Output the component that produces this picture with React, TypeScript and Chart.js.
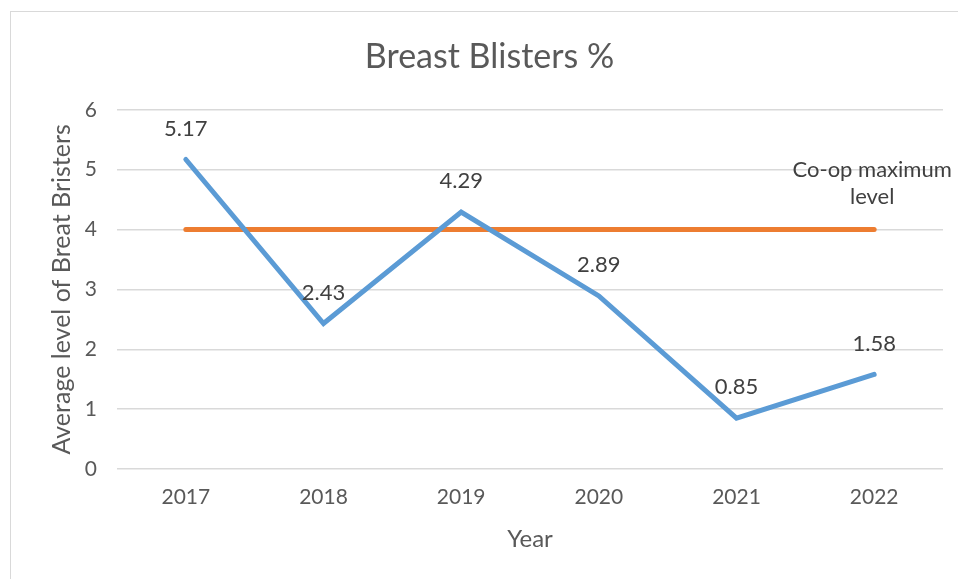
import React, { useEffect, useRef } from "react";
import { Chart, registerables } from "chart.js";

Chart.register(...registerables);

const years = ["2017", "2018", "2019", "2020", "2021", "2022"];
const blisters = [5.17, 2.43, 4.29, 2.89, 0.85, 1.58];
const coopMax = [4, 4, 4, 4, 4, 4];
const coopLabel = ["Co-op maximum", "level"];
const chartTitle = "Breast Blisters %";
const yTitle = "Average level of Breat Bristers";
const xTitle = "Year";

const FONT = "Lato, 'Open Sans', sans-serif";
const TEXT = "#595959";

const labelPlugin = {
  id: "labels",
  afterDatasetsDraw(chart: any) {
    const ctx = chart.ctx;
    ctx.save();
    ctx.font = `22px ${FONT}`;
    ctx.fillStyle = "#404040";
    ctx.textAlign = "center";
    ctx.textBaseline = "middle";
    const m0 = chart.getDatasetMeta(0);
    m0.data.forEach((pt: any, i: number) => {
      ctx.fillText(blisters[i].toFixed(2), pt.x, pt.y - 31);
    });
    const m1 = chart.getDatasetMeta(1);
    const last = m1.data[m1.data.length - 1];
    ctx.fillText(coopLabel[0], last.x - 2, last.y - 60);
    ctx.fillText(coopLabel[1], last.x - 2, last.y - 33);
    ctx.restore();
  },
};

export default function App() {
  const ref = useRef<HTMLCanvasElement>(null);
  useEffect(() => {
    const chart = new Chart(ref.current!, {
      type: "line",
      data: {
        labels: years,
        datasets: [
          {
            label: "Breast Blisters",
            data: blisters,
            borderColor: "#5b9bd5",
            borderWidth: 5,
            pointRadius: 0,
            tension: 0,
            borderCapStyle: "round",
          },
          {
            label: "Co-op maximum level",
            data: coopMax,
            borderColor: "#ed7d31",
            borderWidth: 5,
            pointRadius: 0,
            borderCapStyle: "round",
          },
        ],
      },
      options: {
        animation: false,
        responsive: false,
        layout: { padding: { left: 36, right: 15, top: 0, bottom: 0 } },
        plugins: {
          legend: { display: false },
          tooltip: { enabled: false },
          title: {
            display: true,
            text: chartTitle,
            color: TEXT,
            font: { family: FONT, size: 34, weight: "normal" },
            padding: { top: 37, bottom: 32 },
          },
        },
        scales: {
          x: {
            offset: true,
            grid: { display: false, drawTicks: false },
            border: { display: false },
            ticks: { color: TEXT, font: { family: FONT, size: 21 }, padding: 16 },
            title: {
              display: true,
              text: xTitle,
              color: TEXT,
              font: { family: FONT, size: 24 },
              padding: { top: 4, bottom: 25 },
            },
            afterFit(s: any) {
              s.height = 110;
            },
          },
          y: {
            min: 0,
            max: 6,
            ticks: { stepSize: 1, color: TEXT, font: { family: FONT, size: 21 }, padding: 20 },
            grid: { color: "#d9d9d9", lineWidth: 1.5, drawTicks: false },
            border: { display: false },
            title: {
              display: true,
              text: yTitle,
              color: TEXT,
              font: { family: FONT, size: 25 },
              padding: { top: 11, bottom: 0 },
            },
            afterFit(s: any) {
              s.width = 81;
            },
          },
        },
      },
      plugins: [labelPlugin],
    });
    return () => chart.destroy();
  }, []);
  return (
    <div style={{ position: "fixed", left: 0, top: 0, width: 958, height: 579, background: "#fff" }}>
      <canvas ref={ref} width={958} height={579} style={{ position: "absolute", left: 0, top: 0 }} />
      <div
        style={{
          position: "absolute",
          left: 10,
          top: 11,
          width: 948,
          height: 568,
          borderLeft: "1.5px solid #d9d9d9",
          borderTop: "1.5px solid #d9d9d9",
          boxSizing: "border-box",
          pointerEvents: "none",
        }}
      />
    </div>
  );
}
